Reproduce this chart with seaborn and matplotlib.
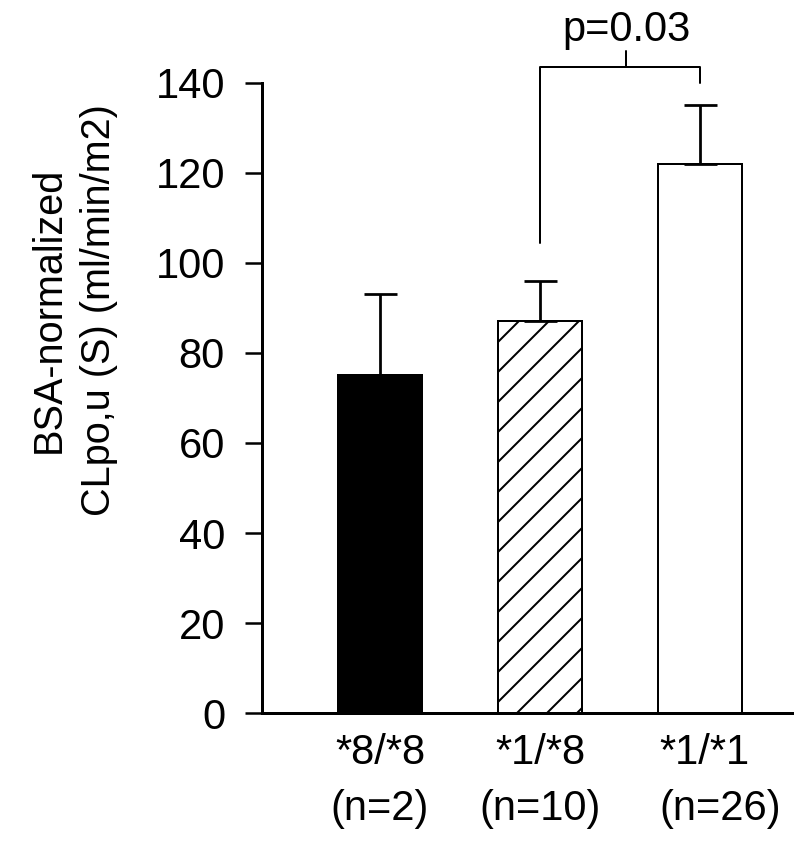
import pandas as pd
import matplotlib.pyplot as plt
import matplotlib.transforms as mtransforms
import seaborn as sns

# Datos
genotipos = ['*8/*8\n(n=2)', '*1/*8\n(n=10)', '*1/*1\n(n=26)']
clearance = [75, 87, 122]
error_sup = [18, 9, 13]
colores = ['black', 'white', 'white']
tramas = ['', '//', '']
y_ticks = [0, 20, 40, 60, 80, 100, 120, 140]

# Corchete de significacion (x en categorias, y en unidades del eje)
corchete_x = [1, 1, 2, 2]
corchete_y = [104.5, 143.5, 143.5, 140]
marca_x = 1.54
marca_y = [143.5, 147]
p_texto = 'p=0.03'

DPI = 180
S = 100 / DPI  # escala de puntos para que coincida con los pixeles

sns.set_style('ticks')
plt.rcParams['font.family'] = ['Liberation Sans', 'DejaVu Sans']
plt.rcParams['hatch.linewidth'] = 0.8
plt.rcParams['hatch.color'] = 'black'
for clave in ['text.color', 'axes.labelcolor', 'xtick.color', 'ytick.color',
              'axes.edgecolor']:
    plt.rcParams[clave] = 'black'

df = pd.DataFrame({'Genotipo': genotipos, 'CL': clearance})

fig = plt.figure(figsize=(800 / DPI, 845 / DPI), dpi=DPI)
ax = fig.add_axes([0.3275, 0.1562, 0.6625, 0.7456])

sns.barplot(x='Genotipo', y='CL', data=df, hue='Genotipo', palette=colores,
            legend=False, errorbar=None, width=0.525, edgecolor='black',
            linewidth=0.8, saturation=1, ax=ax)
for barra, trama in zip(ax.patches, tramas):
    barra.set_hatch(trama)

# Barras de error solo hacia arriba
ax.errorbar(range(len(clearance)), clearance, yerr=[[0] * 3, error_sup],
            fmt='none', ecolor='black', elinewidth=1.1, capsize=6.6, capthick=1.1,
            zorder=1)

ax.plot(corchete_x, corchete_y, color='black', lw=0.8, clip_on=False)
ax.plot([marca_x, marca_x], marca_y, color='black', lw=0.8, clip_on=False)
ax.text(marca_x, marca_y[1] + 0.3, p_texto, ha='center', va='bottom',
        fontsize=30 * S)

ax.set_xlim(-0.7375, 2.575)
ax.set_ylim(0, 140)
ax.set_yticks(y_ticks)
ax.set_xlabel('')
ax.set_ylabel('BSA-normalized\nCLpo,u (S) (ml/min/m2)', fontsize=28.5 * S,
              linespacing=1.4)
ax.yaxis.set_label_coords(-0.272, 0.64)

ax.tick_params(axis='y', labelsize=30 * S, length=17 * S * 0.72,
               width=1.0, direction='out', pad=8)
ax.tick_params(axis='x', labelsize=30 * S, length=0, pad=8)
etiquetas = ax.get_xticklabels()
for lab in etiquetas:
    lab.set_multialignment('center')
    lab.set_linespacing(1.5)
etiquetas[2].set_multialignment('left')
etiquetas[2].set_transform(etiquetas[2].get_transform() +
                           mtransforms.ScaledTranslation(20 / DPI, 0, fig.dpi_scale_trans))

sns.despine(ax=ax)
ax.spines['left'].set_linewidth(1.2)
ax.spines['bottom'].set_linewidth(1.2)

fig.savefig('out.png', dpi=DPI)
plt.close()
